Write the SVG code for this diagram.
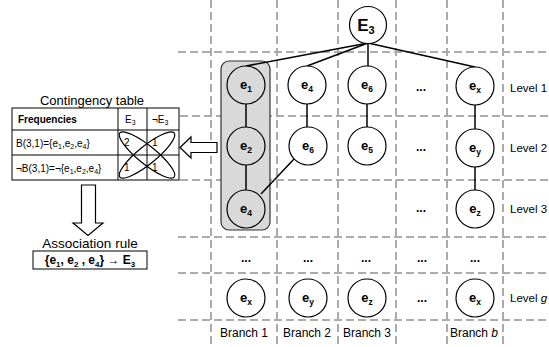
<svg xmlns="http://www.w3.org/2000/svg" width="549" height="347" viewBox="0 0 549 347">
<style>
text{font-family:"Liberation Sans",Arial,sans-serif;fill:#000}
.grid line{stroke:#ababab;stroke-width:2;stroke-dasharray:8 4}
.node circle{fill:#fff;stroke:#000;stroke-width:1.2}
.hl circle{fill:#d9d9d9}
.lbl{font-size:13px;font-weight:bold;text-anchor:middle}
.dots{font-size:12px;font-weight:bold;text-anchor:middle}
.edges line{stroke:#000;stroke-width:1.5}
.side{font-size:12px}
.lev{font-size:11.5px}
.tbl{fill:none;stroke:#000;stroke-width:1}
.cell{font-size:10px}
.arrow{fill:#fff;stroke:#000;stroke-width:1.2}
</style>
<rect width="549" height="347" fill="#fff"/>
<g class="grid" id="grid">
<line x1="211" y1="0" x2="211" y2="347"/>
<line x1="277" y1="0" x2="277" y2="347"/>
<line x1="338" y1="0" x2="338" y2="347"/>
<line x1="396" y1="0" x2="396" y2="347"/>
<line x1="447" y1="0" x2="447" y2="347"/>
<line x1="503" y1="0" x2="503" y2="347"/>
<line x1="178" y1="52" x2="549" y2="52"/>
<line x1="180" y1="116" x2="549" y2="116"/>
<line x1="180" y1="180" x2="549" y2="180"/>
<line x1="178" y1="237" x2="549" y2="237"/>
<line x1="178" y1="273" x2="549" y2="273"/>
<line x1="178" y1="320" x2="549" y2="320"/>
</g>
<g id="highlight">
<rect x="221" y="61" width="49" height="169" rx="8" fill="#d9d9d9" stroke="#333" stroke-width="1.2"/>
</g>
<g class="edges" id="connectors">
<line x1="368" y1="43" x2="246" y2="66"/>
<line x1="368" y1="43" x2="307" y2="66"/>
<line x1="368" y1="43" x2="368" y2="66"/>
<line x1="368" y1="43" x2="475" y2="67"/>
<line x1="246" y1="104" x2="246" y2="127"/>
<line x1="246" y1="165" x2="246" y2="190"/>
<line x1="307" y1="104" x2="307" y2="127"/>
<line x1="367" y1="104" x2="367" y2="127"/>
<line x1="475" y1="105" x2="475" y2="129"/>
<line x1="475" y1="167" x2="475" y2="190"/>
<line x1="294" y1="159" x2="261" y2="194"/>
</g>
<g class="node" id="E3"><circle cx="368" cy="25" r="18.5"/><text x="366" y="31" style="font-size:17px;font-weight:bold;text-anchor:middle">E<tspan dy="3" font-size="11">3</tspan></text></g>
<g class="node hl" id="n-e1"><circle cx="246" cy="85" r="19"/><text class="lbl" x="246" y="89">e<tspan dy="3" font-size="8.5">1</tspan></text></g>
<g class="node hl" id="n-e2"><circle cx="246" cy="146" r="19"/><text class="lbl" x="246" y="150">e<tspan dy="3" font-size="8.5">2</tspan></text></g>
<g class="node hl" id="n-e4a"><circle cx="246" cy="209" r="19"/><text class="lbl" x="246" y="213">e<tspan dy="3" font-size="8.5">4</tspan></text></g>
<g class="node" id="n-e4b"><circle cx="307" cy="85" r="19"/><text class="lbl" x="307" y="89">e<tspan dy="3" font-size="8.5">4</tspan></text></g>
<g class="node" id="n-e6b"><circle cx="308" cy="146" r="19"/><text class="lbl" x="308" y="150">e<tspan dy="3" font-size="8.5">6</tspan></text></g>
<g class="node" id="n-e6c"><circle cx="367" cy="85" r="19"/><text class="lbl" x="367" y="89">e<tspan dy="3" font-size="8.5">6</tspan></text></g>
<g class="node" id="n-e5"><circle cx="367" cy="146" r="19"/><text class="lbl" x="367" y="150">e<tspan dy="3" font-size="8.5">5</tspan></text></g>
<g class="node" id="n-ex1"><circle cx="475" cy="86" r="19"/><text class="lbl" x="475" y="90">e<tspan dy="3" font-size="8.5">x</tspan></text></g>
<g class="node" id="n-ey1"><circle cx="475" cy="148" r="19"/><text class="lbl" x="475" y="152">e<tspan dy="3" font-size="8.5">y</tspan></text></g>
<g class="node" id="n-ez1"><circle cx="475" cy="209" r="19"/><text class="lbl" x="475" y="213">e<tspan dy="3" font-size="8.5">z</tspan></text></g>
<g class="node" id="n-exg"><circle cx="246" cy="298" r="19"/><text class="lbl" x="246" y="302">e<tspan dy="3" font-size="8.5">x</tspan></text></g>
<g class="node" id="n-eyg"><circle cx="308" cy="298" r="19"/><text class="lbl" x="308" y="302">e<tspan dy="3" font-size="8.5">y</tspan></text></g>
<g class="node" id="n-ezg"><circle cx="367" cy="298" r="19"/><text class="lbl" x="367" y="302">e<tspan dy="3" font-size="8.5">z</tspan></text></g>
<g class="node" id="n-exb"><circle cx="475" cy="298" r="19"/><text class="lbl" x="475" y="302">e<tspan dy="3" font-size="8.5">x</tspan></text></g>
<g id="dots">
<text class="dots" x="421" y="91">...</text>
<text class="dots" x="421" y="151">...</text>
<text class="dots" x="421" y="212">...</text>
<text class="dots" x="246" y="262">...</text>
<text class="dots" x="308" y="262">...</text>
<text class="dots" x="366" y="262">...</text>
<text class="dots" x="422" y="262">...</text>
<text class="dots" x="475" y="262">...</text>
<text class="dots" x="422" y="302">...</text>
</g>
<g id="levels" class="lev">
<text x="510" y="92">Level 1</text>
<text x="510" y="152">Level 2</text>
<text x="510" y="213">Level 3</text>
<text x="510" y="302">Level <tspan font-style="italic">g</tspan></text>
</g>
<g id="branches" class="side" text-anchor="middle">
<text x="244" y="337">Branch 1</text>
<text x="307" y="337">Branch 2</text>
<text x="367" y="337">Branch 3</text>
<text x="474" y="337">Branch <tspan font-style="italic">b</tspan></text>
</g>
<g id="table">
<text x="92" y="105" style="font-size:13px;text-anchor:middle">Contingency table</text>
<ellipse cx="147" cy="155" rx="35" ry="9" transform="rotate(39 147 155)" fill="none" stroke="#000" stroke-width="1.2"/>
<ellipse cx="147" cy="155" rx="35" ry="9" transform="rotate(-39 147 155)" fill="none" stroke="#000" stroke-width="1.2"/>
<rect class="tbl" x="12" y="108" width="167" height="72"/>
<line class="tbl" x1="12" y1="130" x2="179" y2="130"/>
<line class="tbl" x1="12" y1="155" x2="179" y2="155"/>
<line class="tbl" x1="118" y1="108" x2="118" y2="180"/>
<line class="tbl" x1="147" y1="108" x2="147" y2="180"/>
<text class="cell" x="18" y="123" font-weight="bold">Frequencies</text>
<text class="cell" x="125" y="123">E<tspan dy="2" font-size="7">3</tspan></text>
<text class="cell" x="152" y="123">¬E<tspan dy="2" font-size="7">3</tspan></text>
<text class="cell" x="16" y="147">B(3,1)={e<tspan dy="2" font-size="7">1</tspan><tspan dy="-2">,e</tspan><tspan dy="2" font-size="7">2</tspan><tspan dy="-2">,e</tspan><tspan dy="2" font-size="7">4</tspan><tspan dy="-2">}</tspan></text>
<text class="cell" x="16" y="172">¬B(3,1)=¬{e<tspan dy="2" font-size="7">1</tspan><tspan dy="-2">,e</tspan><tspan dy="2" font-size="7">2</tspan><tspan dy="-2">,e</tspan><tspan dy="2" font-size="7">4</tspan><tspan dy="-2">}</tspan></text>
<text class="cell" x="124" y="146">2</text>
<text class="cell" x="152" y="146">1</text>
<text class="cell" x="124" y="171">1</text>
<text class="cell" x="152" y="171">1</text>
</g>
<g id="arrows">
<polygon class="arrow" points="180,147.5 191,137 191,142.5 217,142.5 217,152.5 191,152.5 191,158"/>
<polygon class="arrow" points="81.5,185 95.5,185 95.5,223 103,223 88,235.5 73,223 81.5,223"/>
</g>
<g id="rule">
<text x="90" y="248" style="font-size:13.5px;text-anchor:middle">Association rule</text>
<rect x="33" y="251" width="114" height="18" fill="#fff" stroke="#000" stroke-width="1"/>
<text x="90" y="264" style="font-size:12px;font-weight:bold;text-anchor:middle">{e<tspan dy="3" font-size="8">1</tspan><tspan dy="-3">, e</tspan><tspan dy="3" font-size="8">2</tspan><tspan dy="-3"> , e</tspan><tspan dy="3" font-size="8">4</tspan><tspan dy="-3">} → E</tspan><tspan dy="3" font-size="8">3</tspan></text>
</g>
</svg>
